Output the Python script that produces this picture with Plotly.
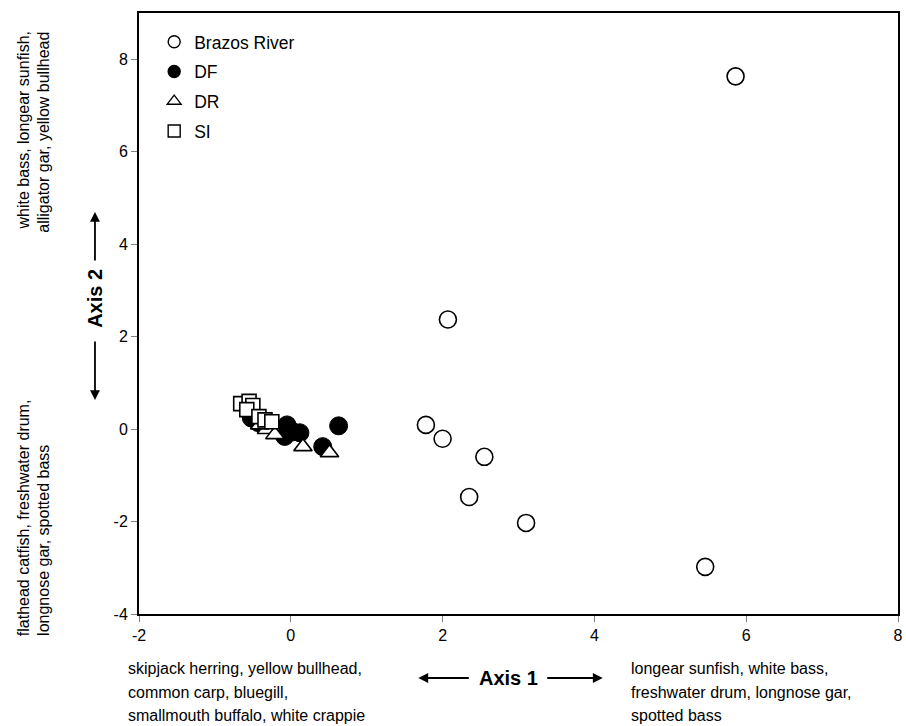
import plotly.graph_objects as go

# Brazos River (open circles)
brazos_x = [5.86, 2.07, 1.78, 2.00, 2.55, 2.35, 3.10, 5.46]
brazos_y = [7.63, 2.37, 0.09, -0.21, -0.60, -1.47, -2.03, -2.98]

# DF (filled circles)
df_x = [0.63, 0.42, 0.03, -0.05, 0.12, -0.08, -0.43, -0.52]
df_y = [0.07, -0.38, -0.06, 0.09, -0.08, -0.16, 0.14, 0.24]

# DR (open triangles)
dr_x = [0.16, 0.51, -0.32, -0.41, -0.21]
dr_y = [-0.38, -0.51, -0.01, 0.09, -0.12]

# SI (open squares)
si_x = [-0.66, -0.55, -0.50, -0.58, -0.42, -0.34, -0.25]
si_y = [0.55, 0.60, 0.51, 0.42, 0.27, 0.20, 0.16]

x_ticks = [-2, 0, 2, 4, 6, 8]
y_ticks = [-4, -2, 0, 2, 4, 6, 8]

series_names = ["Brazos River", "DF", "DR", "SI"]

FONT = "Liberation Sans, Arial, sans-serif"
OPEN = dict(color="white", line=dict(color="black", width=1.6))

fig = go.Figure()
# data traces (draw order: circles, filled circles, triangles, squares)
fig.add_trace(go.Scatter(x=brazos_x, y=brazos_y, mode="markers", name=series_names[0],
                         showlegend=False,
                         marker=dict(symbol="circle", size=17, **OPEN)))
fig.add_trace(go.Scatter(x=df_x, y=df_y, mode="markers", name=series_names[1],
                         showlegend=False,
                         marker=dict(symbol="circle", size=18, color="black",
                                     line=dict(color="black", width=1))))
fig.add_trace(go.Scatter(x=dr_x, y=dr_y, mode="markers", name=series_names[2],
                         showlegend=False,
                         marker=dict(symbol="triangle-up", size=16, **OPEN)))
fig.add_trace(go.Scatter(x=si_x, y=si_y, mode="markers", name=series_names[3],
                         showlegend=False,
                         marker=dict(symbol="square", size=14, **OPEN)))

# legend entries with smaller symbols
legend_syms = [("circle", "white"), ("circle", "black"), ("triangle-up", "white"), ("square", "white")]
for i, (nm, (sym, col)) in enumerate(zip(series_names, legend_syms)):
    fig.add_trace(go.Scatter(x=[None], y=[None], mode="markers", name=nm, legendgroup=nm,
                             legendrank=i + 1,
                             marker=dict(symbol=sym, size=12, color=col,
                                         line=dict(color="black", width=1.4))))

fig.update_layout(
    width=906, height=726,
    margin=dict(l=139, r=3, t=13, b=112),
    paper_bgcolor="white", plot_bgcolor="white",
    font=dict(family=FONT, size=16, color="black"),
    showlegend=True,
    legend=dict(x=0.02, y=0.982, xanchor="left", yanchor="top",
                bgcolor="rgba(0,0,0,0)", font=dict(size=17.5),
                traceorder="grouped", tracegroupgap=4, itemwidth=30),
    xaxis=dict(range=[-2, 8], tickvals=x_ticks, ticktext=[str(v) for v in x_ticks],
               showgrid=False, zeroline=False, showline=True, linecolor="black",
               linewidth=2, mirror=True, ticks="outside", ticklen=6, tickcolor="gray",
               tickfont=dict(size=16)),
    yaxis=dict(range=[-4, 9], tickvals=y_ticks, ticktext=[str(v) for v in y_ticks],
               showgrid=False, zeroline=False, showline=True, linecolor="black",
               linewidth=2, mirror=True, ticks="outside", ticklen=6, tickcolor="gray",
               tickfont=dict(size=16)),
)

annots = []
def line_note(text, x, y, xanchor="left", yanchor="middle", angle=0, size=16, bold=False):
    annots.append(dict(xref="paper", yref="paper", x=x, y=y, xanchor=xanchor, yanchor=yanchor,
                       textangle=angle, showarrow=False, font=dict(size=size),
                       text=("<b>%s</b>" % text) if bold else text))

# x-axis descriptive text (one annotation per line)
left_lines = ["skipjack herring, yellow bullhead,", "common carp, bluegill,", "smallmouth buffalo, white crappie"]
right_lines = ["longear sunfish, white bass,", "freshwater drum, longnose gar,", "spotted bass"]
line_y = [-0.0899, -0.1298, -0.1697]
for t, yy in zip(left_lines, line_y):
    line_note(t, -0.0175, yy)
for t, yy in zip(right_lines, line_y):
    line_note(t, 0.646, yy)
line_note("Axis 1", 0.487, -0.1065, xanchor="center", size=20, bold=True)

# y-axis descriptive text (rotated)
line_note("white bass, longear sunfish,", -0.152, 0.972, xanchor="center", yanchor="top", angle=-90)
line_note("alligator gar, yellow bullhead", -0.126, 0.972, xanchor="center", yanchor="top", angle=-90)
line_note("flathead catfish, freshwater drum,", -0.152, -0.040, xanchor="center", yanchor="bottom", angle=-90)
line_note("longnose gar, spotted bass", -0.126, -0.040, xanchor="center", yanchor="bottom", angle=-90)
line_note("Axis 2", -0.058, 0.526, xanchor="center", size=20, bold=True, angle=-90)

# arrows
arrow = dict(showarrow=True, arrowhead=2, arrowsize=1.1, arrowwidth=1.8, arrowcolor="black",
             axref="pixel", ayref="pixel", text="")
annots.append(dict(xref="paper", yref="paper", x=0.368, y=-0.1065, ax=52, ay=0, **arrow))
annots.append(dict(xref="paper", yref="paper", x=0.611, y=-0.1065, ax=-57, ay=0, **arrow))
annots.append(dict(xref="paper", yref="paper", x=-0.058, y=0.669, ax=0, ay=50, **arrow))
annots.append(dict(xref="paper", yref="paper", x=-0.058, y=0.356, ax=0, ay=-60, **arrow))
fig.update_layout(annotations=annots)

fig.write_html("out.html")
